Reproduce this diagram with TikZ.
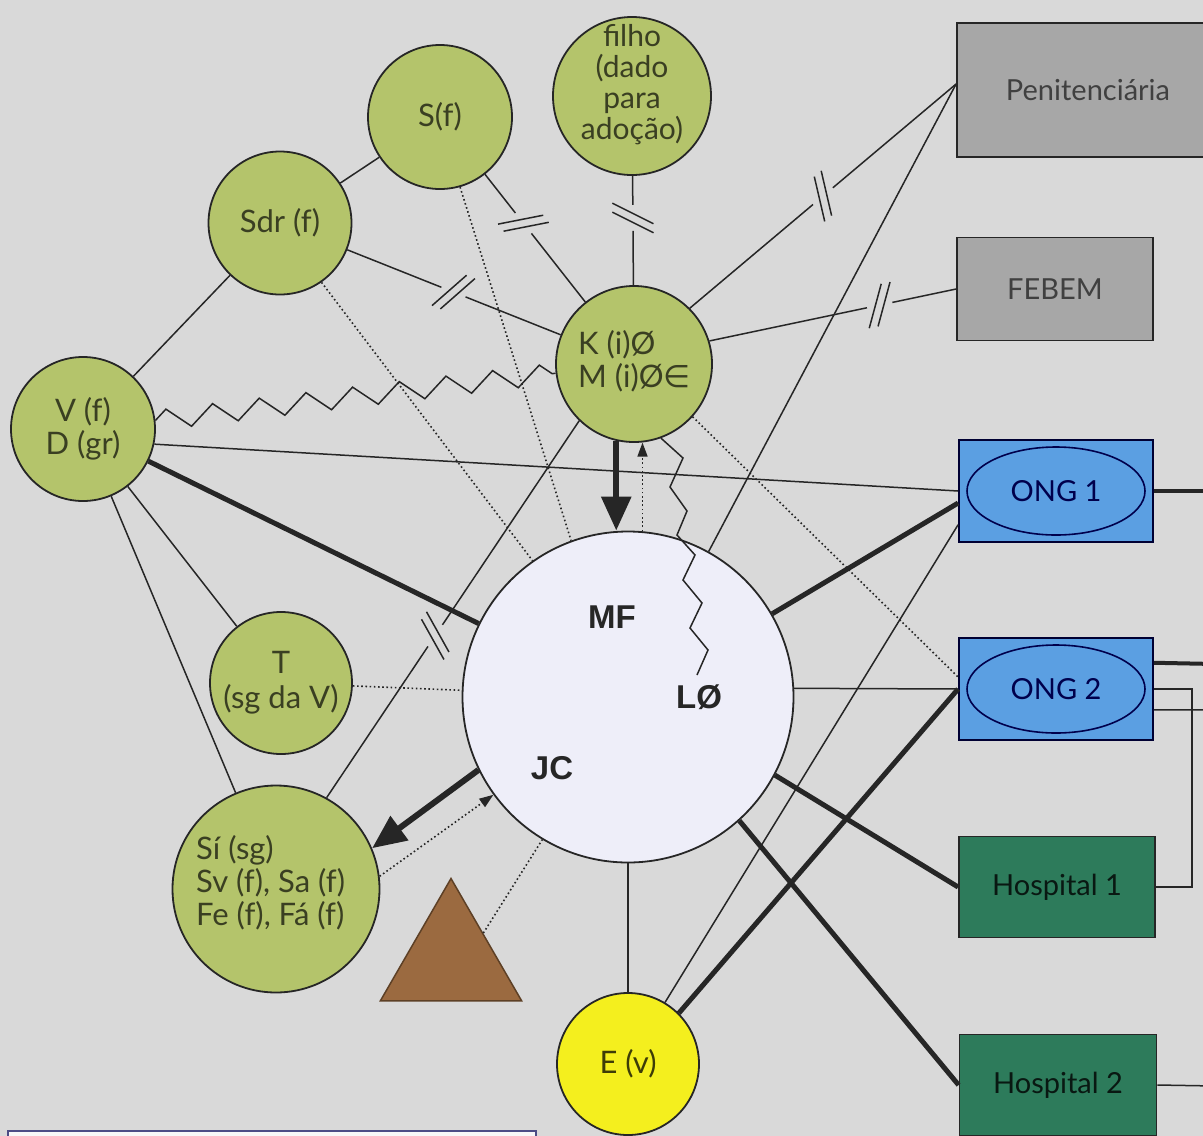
\documentclass[tikz,border=0pt]{standalone}
\usepackage{fontspec}
\setmainfont{Lato}
\newfontfamily\boldfam{Liberation Sans}
\newfontfamily\symfam{DejaVu Sans}
\usetikzlibrary{calc,arrows.meta,decorations.pathmorphing,shapes.geometric}

\definecolor{bg}{HTML}{D9D9D9}
\definecolor{grn}{HTML}{B4C46B}
\definecolor{lav}{HTML}{EEEEF9}
\definecolor{pgray}{HTML}{A7A7A7}
\definecolor{ongblue}{HTML}{5B9FE2}
\definecolor{hosp}{HTML}{2D7B5B}
\definecolor{yel}{HTML}{F4EF1E}
\definecolor{tribrown}{HTML}{9B6A40}
\definecolor{ink}{HTML}{262626}
\definecolor{gtext}{HTML}{3A3F22}

\tikzset{
 gcirc/.style={circle, draw=ink, line width=1.8pt, fill=grn, inner sep=0pt, text=gtext,
   font=\fontsize{31}{33}\selectfont, align=center},
 glabel/.style={text=gtext, inner sep=0pt},
 boxnode/.style={rectangle, draw=ink, line width=1.8pt, inner sep=0pt, font=\fontsize{29}{32}\selectfont},
 thinln/.style={line width=1.5pt, draw=ink},
 thickln/.style={line width=5pt, draw=ink},
 edgeln/.style={line width=4pt, draw=ink},
 dotln/.style={line width=1.6pt, draw=ink, dash pattern=on 1.6pt off 2.6pt},
 bigarr/.style={line width=6pt, draw=ink, -{Triangle[length=34pt,width=29pt]}},
 dotarr/.style={dotln, -{Triangle[length=14pt,width=10pt]}},
 zz/.style={thinln, decorate, decoration={zigzag, segment length=47pt, amplitude=10pt}},
 boldlabel/.style={font=\boldfam\bfseries\fontsize{33}{36}\selectfont, text=ink, inner sep=0pt},
}

\newcommand\brkline[3]{%
  \coordinate (bkc) at ($(#1)!#3!(#2)$);
  \coordinate (bka) at ($(bkc)!4.5pt!(#1)$);
  \coordinate (bkb) at ($(bkc)!4.5pt!(#2)$);
  \draw[thinln] (#1) -- ($(bkc)!13pt!(#1)$);
  \draw[thinln] ($(bkc)!13pt!(#2)$) -- (#2);
  \draw[thinln] ($(bka)!23pt!63:(#2)$) -- ($(bka)!-23pt!63:(#2)$);
  \draw[thinln] ($(bkb)!23pt!63:(#2)$) -- ($(bkb)!-23pt!63:(#2)$);
}

\begin{document}
\begin{tikzpicture}[x=1pt,y=-1pt]
\clip (0,0) rectangle (1203,1136);
\fill[bg] (0,0) rectangle (1203,1136);

% bottom-left strip
\draw[fill=white!94!gray, draw=black!45!blue!40!gray, line width=1.5pt] (8,1131) rectangle (536,1170);

% ---- nodes ----
\node[gcirc, minimum size=144pt] (S) at (440,117) {S(f)};
\node[gcirc, minimum size=158pt] (filho) at (632,96) {};
\node[glabel, align=center, font=\fontsize{30}{31}\selectfont] at (632,85) {filho\\(dado\\para\\adoção)};
\node[gcirc, minimum size=143pt] (Sdr) at (280,223) {Sdr (f)};
\node[gcirc, minimum size=144pt] (V) at (83,429) {V (f)\\D (gr)};
\node[gcirc, minimum size=156pt] (K) at (634,364) {};
\node[glabel, align=left, anchor=west, font=\fontsize{31}{33}\selectfont] at (578,361) {K (i)Ø\\M (i)Ø{\symfam ∈}};
\node[circle, draw=ink, line width=1.8pt, fill=lav, minimum size=331pt, inner sep=0pt] (MF) at (628,697) {};
\node[gcirc, minimum size=142pt, font=\fontsize{31}{35}\selectfont] (T) at (281,683) {T\\(sg da V)};
\node[gcirc, minimum size=207pt] (Si) at (276,889) {};
\node[glabel, align=left, anchor=west, font=\fontsize{31}{33}\selectfont] at (196,883) {Sí (sg)\\Sv (f), Sa (f)\\Fe (f), Fá (f)};
\node[regular polygon, regular polygon sides=3, minimum size=163pt, inner sep=0pt,
      fill=tribrown, draw=tribrown!60!black, line width=1.5pt] (tri) at (451,960) {};
\node[circle, draw=ink, line width=1.8pt, fill=yel, minimum size=142pt, inner sep=0pt,
      text=black!75!yel, font=\fontsize{31}{32}\selectfont] (E) at (628,1064) {E (v)};

\node[boxnode, fill=pgray, minimum width=262pt, minimum height=134pt, text=black!75] (pen) at (1088,90) {Penitenciária};
\node[boxnode, fill=pgray, minimum width=196pt, minimum height=103pt, text=black!75] (feb) at (1055,289) {FEBEM};
\node[boxnode, fill=ongblue, minimum width=194pt, minimum height=102pt, draw=black!80!blue] (ong1) at (1056,491) {};
\node[ellipse, draw=black!70!blue, line width=1.6pt, minimum width=178pt, minimum height=88pt, inner sep=0pt,
      text=black!70!blue, font=\fontsize{29}{32}\selectfont] (e1) at (ong1) {ONG 1};
\node[boxnode, fill=ongblue, minimum width=194pt, minimum height=102pt, draw=black!80!blue] (ong2) at (1056,689) {};
\node[ellipse, draw=black!70!blue, line width=1.6pt, minimum width=178pt, minimum height=88pt, inner sep=0pt,
      text=black!70!blue, font=\fontsize{29}{32}\selectfont] (e2) at (ong2) {ONG 2};
\node[boxnode, fill=hosp, minimum width=196pt, minimum height=101pt, text=black!80!hosp] (h1) at (1057,887) {Hospital 1};
\node[boxnode, fill=hosp, minimum width=197pt, minimum height=101pt, text=black!80!hosp] (h2) at (1058,1085) {Hospital 2};

\node[boldlabel] (mfl) at (612,617) {MF};
\node[boldlabel] (lol) at (699,697) {LØ};
\node[boldlabel] (jcl) at (552,768) {JC};

\coordinate (penW) at ($(pen.west)+(0,-6)$);

% ---- connectors ----
\draw[thinln] (Sdr) -- (S);
\draw[thinln] (V) -- (Sdr);
\brkline{Sdr}{K}{0.49}
\brkline{S}{K}{0.43}
\brkline{filho}{K}{0.455}
\brkline{K.45}{penW}{0.5}
\brkline{K.17}{feb.west}{0.69}
\brkline{Si.61}{K.226}{0.43}

\draw[zz] (V) -- (K);
\draw[thinln] (V.-12) -- (ong1.west);
\draw[thickln] (V) -- (MF);
\draw[thinln] (V) -- (T);
\draw[thinln] (V) -- (Si);

\draw[dotln] (T) -- (MF);
\draw[dotln] (Sdr.-55) -- (MF.125);
\draw[dotln] (S.-74) -- (MF.110);
\draw[dotln] (K.-42) -- (ong2.173);

\draw[bigarr] (K.-103) -- (K.-103 |- MF.north);
\draw[dotarr] (MF.85) -- (MF.85 |- K.-85);
\draw[bigarr] (MF.206) -- (Si.23);
\draw[dotarr] (Si.7) -- (MF.216);
\draw[dotln] ($(tri.corner 1)!0.45!(tri.corner 3)$) -- (MF.239);

\coordinate (zend) at (697,675);
\draw[thinln] (K.-70) -- (683,458) -- (670,487) -- (687,511) -- (677,535) -- (695,555)
  -- (683,580) -- (702,603) -- (690,628) -- (708,650) -- (zend);

\draw[thinln] (MF.61) -- (penW);
\draw[thickln] (MF.30) -- (ong1.187);
\draw[thinln] (E.59) -- (ong1.199);
\draw[thickln] (E.45) -- (ong2.west);
\draw[thinln] (MF.3) -- (ong2.west);
\draw[thickln] (MF.-28) -- (h1.west);
\draw[thickln] (MF.-48) -- (h2.west);
\draw[thinln] (MF.south) -- (E.north);

\coordinate (r1) at (1215,491);
\coordinate (r2) at (1215,664);
\coordinate (r3) at (1215,710);
\coordinate (r4) at (1215,1086);
\draw[edgeln] (ong1.east) -- (r1);
\draw[edgeln] (ong2.15) -- (r2);
\draw[thinln] (ong2.east) -- ++(38,0) |- (h1.east);
\draw[thinln] (ong2.-12) -- (r3);
\draw[thinln] (h2.east) -- (r4);
\end{tikzpicture}
\end{document}
